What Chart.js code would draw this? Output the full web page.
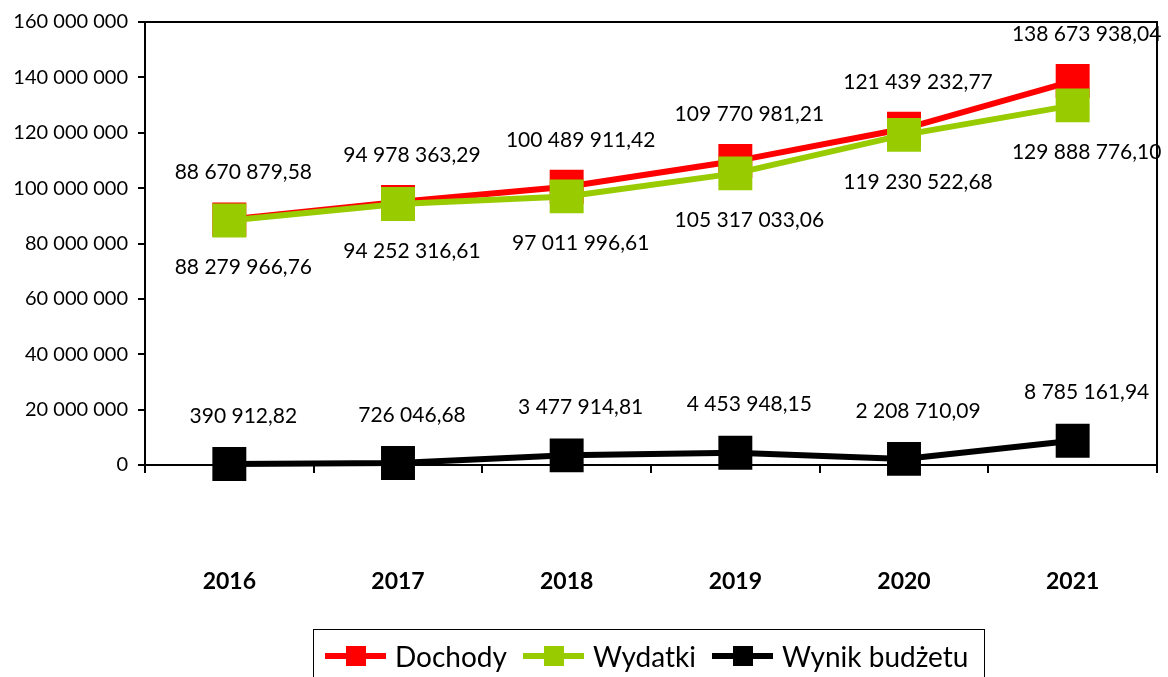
<!DOCTYPE html>
<html>
<head>
<meta charset="utf-8">
<script src="https://cdn.jsdelivr.net/npm/chart.js@4.4.1/dist/chart.umd.min.js"></script>
<style>
    html, body { margin: 0; padding: 0; background: #fff; }
    #wrap { position: relative; width: 1168px; height: 677px; overflow: hidden; }
    #legend {
        position: absolute; left: 313px; top: 629px; width: 672px; height: 60px;
        border: 1.5px solid #000; box-sizing: border-box;
        display: flex; align-items: flex-start; padding: 11px 0 0 11px;
        font-family: Lato, sans-serif; font-size: 28px; color: #000; white-space: nowrap;
    }
    .item { display: flex; align-items: center; margin-right: 16px; height: 30px; flex-shrink: 0; }
    .sym { position: relative; width: 61px; height: 20px; margin-right: 9px; flex-shrink: 0; }
    .sym .ln { position: absolute; left: 0; right: 0; top: 7px; height: 6px; }
    .sym .sq { position: absolute; left: 21px; top: 0; width: 20px; height: 20px; }
</style>
</head>
<body>
<div id="wrap">
    <canvas id="chart" width="1168" height="677"></canvas>
    <div id="legend"></div>
</div>
<script>
// data
const years = ['2016', '2017', '2018', '2019', '2020', '2021'];
const dochody = [88670879.58, 94978363.29, 100489911.42, 109770981.21, 121439232.77, 138673938.04];
const wydatki = [88279966.76, 94252316.61, 97011996.61, 105317033.06, 119230522.68, 129888776.10];
const wynik = [390912.82, 726046.68, 3477914.81, 4453948.15, 2208710.09, 8785161.94];

function groupDigits(s) {
    return s.replace(/\B(?=(\d{3})+(?!\d))/g, ' ');
}
function fmtValue(v) {
    const parts = v.toFixed(2).split('.');
    return groupDigits(parts[0]) + ',' + parts[1];
}

// draws the value labels next to each point
const valueLabels = {
    id: 'valueLabels',
    afterDatasetsDraw(chart) {
        const ctx = chart.ctx;
        ctx.save();
        ctx.font = '21px Lato';
        ctx.fillStyle = '#000';
        ctx.textAlign = 'center';
        ctx.textBaseline = 'middle';
        chart.data.datasets.forEach((ds, i) => {
            const meta = chart.getDatasetMeta(i);
            meta.data.forEach((pt, j) => {
                ctx.fillText(fmtValue(ds.data[j]), pt.x + 14, pt.y + ds.labelOffset);
            });
        });
        ctx.restore();
    }
};

// black frame round the plot area
const plotFrame = {
    id: 'plotFrame',
    afterDraw(chart) {
        const a = chart.chartArea;
        const ctx = chart.ctx;
        ctx.save();
        ctx.strokeStyle = '#000';
        ctx.lineWidth = 2;
        ctx.beginPath();
        ctx.moveTo(a.left, a.top);
        ctx.lineTo(a.right, a.top);
        ctx.lineTo(a.right, a.bottom);
        ctx.stroke();
        ctx.restore();
    }
};

function series(label, data, color, order, labelOffset) {
    return {
        label: label,
        data: data,
        borderColor: color,
        backgroundColor: color,
        borderWidth: 6,
        tension: 0,
        clip: false,
        pointStyle: 'rect',
        pointRadius: 24,
        pointHoverRadius: 24,
        pointBorderWidth: 0,
        pointBackgroundColor: color,
        order: order,
        labelOffset: labelOffset
    };
}

const chart = new Chart(document.getElementById('chart'), {
    type: 'line',
    data: {
        labels: years,
        datasets: [
            series('Dochody', dochody, '#ff0000', 2, -47),
            series('Wydatki', wydatki, '#99cc00', 1, 47),
            series('Wynik budżetu', wynik, '#000000', 0, -48)
        ]
    },
    options: {
        responsive: false,
        animation: false,
        events: [],
        layout: { autoPadding: false, padding: { left: 0, right: 11, top: 22, bottom: 0 } },
        plugins: {
            legend: { display: false },
            tooltip: { enabled: false }
        },
        scales: {
            x: {
                offset: true,
                grid: {
                    offset: true,
                    drawOnChartArea: false,
                    color: '#000',
                    lineWidth: 2,
                    tickLength: 8
                },
                border: { color: '#000', width: 2 },
                ticks: {
                    color: '#000',
                    // tall line height pushes the year labels down, as in the reference
                    font: { family: 'Lato', size: 23, weight: 'bold', lineHeight: '198px' },
                    padding: 10,
                    maxRotation: 0
                },
                afterFit(scale) {
                    scale.height = 212;
                    scale.paddingLeft = 0;
                    scale.paddingRight = 0;
                }
            },
            y: {
                min: 0,
                max: 160000000,
                grid: {
                    drawOnChartArea: false,
                    color: '#000',
                    lineWidth: 2,
                    tickLength: 7
                },
                border: { color: '#000', width: 2 },
                ticks: {
                    stepSize: 20000000,
                    color: '#000',
                    font: { family: 'Lato', size: 20 },
                    padding: 10,
                    callback: (v) => groupDigits(String(v))
                },
                afterFit(scale) { scale.width = 145; }
            }
        }
    },
    plugins: [valueLabels, plotFrame]
});

// legend built from the datasets
const legend = document.getElementById('legend');
chart.data.datasets.forEach((ds) => {
    const item = document.createElement('div');
    item.className = 'item';
    item.innerHTML = '<div class="sym"><div class="ln" style="background:' + ds.borderColor +
        '"></div><div class="sq" style="background:' + ds.borderColor + '"></div></div>';
    const txt = document.createElement('span');
    txt.textContent = ds.label;
    item.appendChild(txt);
    legend.appendChild(item);
});
</script>
</body>
</html>
